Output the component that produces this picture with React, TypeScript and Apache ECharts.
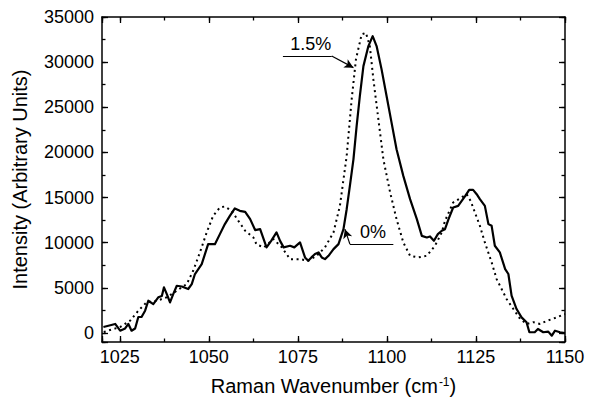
import React, { useEffect, useRef } from "react";
import * as echarts from "echarts";

// 0% curve (solid)
const wavenumber0 = [1020.4, 1021.8, 1023.7, 1025.1, 1026.5, 1027.4, 1028.3, 1029.3, 1030.2, 1031.1, 1032.1, 1033.0, 1034.4, 1035.8, 1036.8, 1037.4, 1038.2, 1039.1, 1040.0, 1041.0, 1042.4, 1044.2, 1045.2, 1046.1, 1048.0, 1049.8, 1051.7, 1053.1, 1054.5, 1055.9, 1057.3, 1058.7, 1060.2, 1061.6, 1063.0, 1064.4, 1066.2, 1067.5, 1069.0, 1070.0, 1071.0, 1072.8, 1074.0, 1075.6, 1077.0, 1077.9, 1078.8, 1079.8, 1080.8, 1081.7, 1082.6, 1083.6, 1085.0, 1086.4, 1087.8, 1088.7, 1089.6, 1090.6, 1091.5, 1092.4, 1093.4, 1094.8, 1096.0, 1097.1, 1098.5, 1099.9, 1101.3, 1102.7, 1104.6, 1106.5, 1108.4, 1109.8, 1111.2, 1112.1, 1113.2, 1114.3, 1115.4, 1116.3, 1117.3, 1118.6, 1120.0, 1121.0, 1122.0, 1123.1, 1124.2, 1125.2, 1126.1, 1127.5, 1128.5, 1129.4, 1130.3, 1131.7, 1133.2, 1134.1, 1135.0, 1136.4, 1137.8, 1139.2, 1140.0, 1141.5, 1142.4, 1143.9, 1145.3, 1146.3, 1147.2, 1148.6, 1150.0];
const intensity0 = [660, 800, 1000, 250, 500, 1000, 250, 500, 1770, 1770, 2470, 3570, 3200, 3950, 4100, 5050, 4300, 3390, 4300, 5230, 5150, 4870, 5420, 6530, 7630, 9840, 9840, 10950, 12060, 12970, 13790, 13530, 13420, 12610, 11400, 11500, 9480, 10200, 11140, 10200, 9480, 9660, 9480, 10030, 8370, 8000, 8370, 8740, 8920, 8370, 8180, 8550, 9290, 9840, 11500, 13710, 16290, 19240, 22930, 26250, 29560, 31780, 32880, 31780, 29200, 26250, 23300, 20350, 17400, 14820, 12610, 10760, 10580, 10690, 10210, 10950, 11320, 11500, 12610, 13900, 14080, 14630, 15180, 15850, 15850, 15370, 14820, 14080, 12060, 11870, 9660, 8930, 7080, 6530, 4130, 2650, 1730, 1180, 80, 80, 440, 80, 150, -300, 250, 80, 0];

// 1.5% curve (dotted)
const wavenumber15 = [1020.5, 1022.0, 1025.1, 1027.9, 1030.2, 1032.5, 1035.4, 1038.2, 1041.0, 1043.8, 1045.6, 1047.5, 1049.4, 1051.2, 1053.1, 1054.5, 1056.4, 1058.3, 1060.2, 1062.5, 1063.4, 1065.5, 1068.1, 1070.5, 1072.8, 1075.6, 1077.9, 1080.3, 1082.6, 1085.0, 1086.8, 1088.7, 1090.1, 1091.3, 1092.9, 1094.1, 1095.2, 1096.2, 1097.6, 1099.0, 1100.9, 1102.7, 1104.6, 1106.5, 1108.8, 1111.2, 1113.5, 1115.4, 1116.3, 1118.6, 1120.5, 1122.4, 1123.5, 1124.7, 1126.1, 1127.5, 1129.4, 1130.8, 1132.2, 1133.6, 1135.5, 1137.4, 1139.2, 1141.1, 1143.0, 1145.0, 1147.7, 1150.0];
const intensity15 = [100, 300, 660, 1360, 2470, 3390, 3570, 3950, 4680, 5420, 6890, 8930, 11140, 12970, 13900, 14010, 13530, 12420, 11320, 10580, 9800, 9480, 10400, 9480, 8180, 8180, 8000, 8550, 9480, 11140, 14080, 19610, 25880, 30300, 33070, 33250, 31780, 28090, 23670, 19240, 15560, 12610, 10030, 8550, 8370, 8550, 9660, 11140, 12420, 14450, 14900, 15370, 14630, 13350, 11870, 10030, 7820, 5970, 4870, 3760, 2650, 1550, 1000, 1200, 1000, 1350, 1730, 2100];

const xTickLabels = [1025, 1050, 1075, 1100, 1125, 1150];
const yTickLabels = [0, 5000, 10000, 15000, 20000, 25000, 30000, 35000];

// annotations: [text, wavenumber, intensity]
const annotationTexts: [string, number, number][] = [
  ["1.5%", 1078.6, 31960],
  ["0%", 1096.1, 11170],
];
// leader lines: polyline points (last point gets arrow)
const leader15: [number, number][] = [
  [1070.8, 30670],
  [1084.5, 30670],
  [1090.6, 29390],
];
const leader0: [number, number][] = [
  [1101.8, 9840],
  [1089.6, 9840],
  [1088.2, 11500],
];

const FONT = "'Liberation Sans', Arial, sans-serif";

function leaderData(pts: [number, number][]) {
  const out: any[] = [];
  for (let i = 0; i < pts.length - 1; i++) {
    const last = i === pts.length - 2;
    out.push([
      { coord: pts[i], symbol: "none" },
      { coord: pts[i + 1], symbol: last ? "arrow" : "none", symbolSize: last ? [7, 9] : 0 },
    ]);
  }
  return out;
}

export default function App() {
  const ref = useRef<HTMLDivElement>(null);
  useEffect(() => {
    if (!ref.current) return;
    const chart = echarts.init(ref.current, undefined, { renderer: "svg" });
    const axisLine = { show: true, onZero: false, lineStyle: { color: "#000", width: 1.5 } };
    const noLine = { show: false, onZero: false };
    const xBase = { type: "value", min: 1020, max: 1150, splitLine: { show: false } };
    const yBase = { type: "value", min: -1000, max: 35000, splitLine: { show: false } };
    const majorTick = { show: true, inside: true, length: 6, lineStyle: { color: "#000", width: 1.3 } };
    const minorTickS = { show: true, inside: true, length: 3.5, lineStyle: { color: "#000", width: 1.3 } };
    const option: any = {
      animation: false,
      grid: { left: 102, right: 26, top: 17, bottom: 58, containLabel: false },
      xAxis: [
        {
          ...xBase,
          position: "bottom",
          minInterval: 25,
          maxInterval: 25,
          axisLine,
          axisTick: majorTick,
          axisLabel: {
            show: true,
            margin: 6,
            color: "#000",
            fontFamily: FONT,
            fontSize: 18,
            formatter: (v: number) => (xTickLabels.includes(v) ? String(v) : ""),
          },
          name: "{a|Raman Wavenumber (cm}{s|-1}{a|)}",
          nameLocation: "middle",
          nameGap: 34,
          nameTextStyle: {
            rich: {
              a: { fontFamily: FONT, fontSize: 20, color: "#000" },
              s: { fontFamily: FONT, fontSize: 12, color: "#000", verticalAlign: "top", padding: [0, 0, 0, 1] },
            },
          },
        },
        {
          ...xBase,
          position: "bottom",
          minInterval: 12.5,
          maxInterval: 12.5,
          axisLine: noLine,
          axisTick: minorTickS,
          axisLabel: { show: false },
        },
        {
          ...xBase,
          position: "top",
          minInterval: 25,
          maxInterval: 25,
          axisLine,
          axisTick: majorTick,
          axisLabel: { show: false },
        },
        {
          ...xBase,
          position: "top",
          minInterval: 12.5,
          maxInterval: 12.5,
          axisLine: noLine,
          axisTick: minorTickS,
          axisLabel: { show: false },
        },
      ],
      yAxis: [
        {
          ...yBase,
          position: "left",
          minInterval: 5000,
          maxInterval: 5000,
          axisLine,
          axisTick: majorTick,
          axisLabel: {
            show: true,
            margin: 8,
            color: "#000",
            fontFamily: FONT,
            fontSize: 18,
            formatter: (v: number) => (yTickLabels.includes(v) ? String(v) : ""),
          },
          name: "Intensity (Arbitrary Units)",
          nameLocation: "middle",
          nameGap: 72,
          nameTextStyle: { fontFamily: FONT, fontSize: 20, color: "#000" },
        },
        {
          ...yBase,
          position: "left",
          minInterval: 2500,
          maxInterval: 2500,
          axisLine: noLine,
          axisTick: minorTickS,
          axisLabel: { show: false },
        },
        {
          ...yBase,
          position: "right",
          minInterval: 5000,
          maxInterval: 5000,
          axisLine,
          axisTick: majorTick,
          axisLabel: { show: false },
        },
        {
          ...yBase,
          position: "right",
          minInterval: 2500,
          maxInterval: 2500,
          axisLine: noLine,
          axisTick: minorTickS,
          axisLabel: { show: false },
        },
      ],
      series: [
        {
          name: "1.5%",
          type: "line",
          xAxisIndex: 0,
          yAxisIndex: 0,
          data: wavenumber15.map((x, i) => [x, intensity15[i]]),
          showSymbol: false,
          symbol: "none",
          silent: true,
          lineStyle: { color: "#000", width: 2, type: [2, 3.6] },
          markLine: {
            silent: true,
            symbol: ["none", "none"],
            label: { show: false },
            lineStyle: { color: "#000", width: 1.2, type: "solid" },
            data: leaderData(leader15),
          },
        },
        {
          name: "0%",
          type: "line",
          xAxisIndex: 0,
          yAxisIndex: 0,
          data: wavenumber0.map((x, i) => [x, intensity0[i]]),
          showSymbol: false,
          symbol: "none",
          silent: true,
          lineStyle: { color: "#000", width: 2.2, join: "round" },
          markLine: {
            silent: true,
            symbol: ["none", "none"],
            label: { show: false },
            lineStyle: { color: "#000", width: 1.2, type: "solid" },
            data: leaderData(leader0),
          },
          markPoint: {
            silent: true,
            symbol: "circle",
            symbolSize: 1,
            itemStyle: { color: "rgba(0,0,0,0)" },
            label: {
              show: true,
              position: "inside",
              color: "#000",
              fontFamily: FONT,
              fontSize: 18,
              formatter: (p: any) => p.name,
            },
            data: annotationTexts.map(([t, x, y]) => ({ name: t, coord: [x, y] })),
          },
        },
      ],
    };
    chart.setOption(option);
    return () => chart.dispose();
  }, []);
  return (
    <div
      ref={ref}
      style={{ position: "fixed", left: 0, top: 0, width: 591, height: 401, background: "#fff" }}
    />
  );
}
